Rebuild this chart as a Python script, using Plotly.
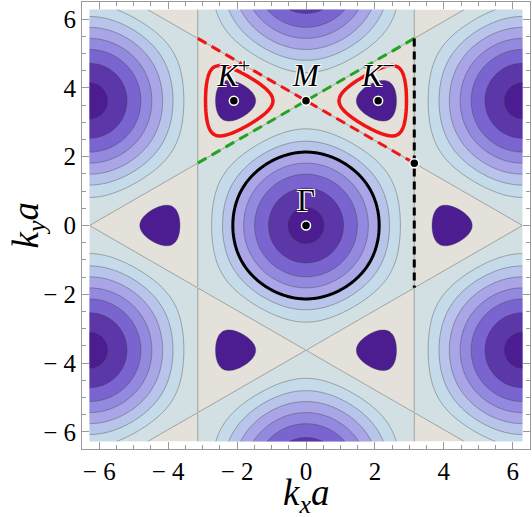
import numpy as np
import plotly.graph_objects as go

# Triangular lattice, a = 1 (nearest-neighbour vectors)
a1 = [1.0, 0.0]
a2 = [0.5, 0.8660254]
a3 = [-0.5, 0.8660254]

# |f(k)|^2 values at which the filled bands change
band_levels = [1.0, 1.96, 2.9, 3.9, 5.0, 6.1, 7.35, 8.6]
# band colours, from |f|^2 < 1 (triangles) to the centre of each Gamma pocket
band_colors = ['#e3e1d9', '#d3e0e3', '#c6dbe9', '#b8c4ea', '#a9a5e6',
               '#9389df', '#7a64cf', '#5c37a8', '#4c1d90']
blob_level = 0.24      # dark pocket around every K point
fermi_level_K = 0.6    # red curves around K+ and K-
fermi_level_G = 3.9    # black curve around Gamma

# special points
point_names = ['Γ', '<i>K</i><sup>+</sup>', '<i>M</i>', '<i>K</i><sup>−</sup>', '']
point_kx = [0.0, -2.094, 0.0, 2.094, 3.142]
point_ky = [0.0, 3.628, 3.628, 3.628, 1.814]

# dashed paths
red_path_kx = [-3.142, 3.142]
red_path_ky = [5.441, 1.814]
green_path_kx = [-3.142, 3.142]
green_path_ky = [1.814, 5.441]
black_path_kx = [3.142, 3.142]
black_path_ky = [5.441, -1.814]

ticks = [-6, -4, -2, 0, 2, 4, 6]
tick_text = ['− 6', '− 4', '− 2', '0', '2', '4', '6']


def f_squared(kx, ky):
    s = 3.0
    for a in (a1, a2, a3):
        s = s + 2 * np.cos(kx * a[0] + ky * a[1])
    return s


# Filled contour map over the plotted zone
k = np.linspace(-2 * np.pi, 2 * np.pi, 400)
KX, KY = np.meshgrid(k, k)
F2 = f_squared(KX, KY)
Z = np.interp(F2, [0] + band_levels + [9], list(range(9)) + [8.5])

n = len(band_colors)
colorscale = [[i / (n - 1), c] for i, c in enumerate(band_colors)]
line_gray = 'rgba(60,60,60,0.55)'

fig = go.Figure()
fig.add_trace(go.Contour(x=k, y=k, z=Z, colorscale=colorscale, showscale=False,
                         contours=dict(start=1, end=8, size=1, coloring='fill'),
                         line=dict(color=line_gray, width=0.7), hoverinfo='skip'))

# dark pockets at the K points (filled only where |f|^2 < blob_level)
fig.add_trace(go.Contour(x=k, y=k, z=-F2, showscale=False,
                         colorscale=[[0, 'rgba(0,0,0,0)'], [1, band_colors[-1]]],
                         contours=dict(start=-blob_level, end=-blob_level, size=1, coloring='fill'),
                         line=dict(color=line_gray, width=0.7), hoverinfo='skip'))

# Black curve around Gamma
kg = np.linspace(-3, 3, 200)
GX, GY = np.meshgrid(kg, kg)
fig.add_trace(go.Contour(x=kg, y=kg, z=f_squared(GX, GY), showscale=False,
                         contours=dict(start=fermi_level_G, end=fermi_level_G, size=1, coloring='none'),
                         line=dict(color='black', width=3), hoverinfo='skip'))

# Dashed paths
fig.add_trace(go.Scatter(x=red_path_kx, y=red_path_ky, mode='lines',
                         line=dict(color='#f01414', width=3, dash='10px,6px')))
fig.add_trace(go.Scatter(x=green_path_kx, y=green_path_ky, mode='lines',
                         line=dict(color='#22a322', width=3, dash='10px,6px')))
fig.add_trace(go.Scatter(x=black_path_kx, y=black_path_ky, mode='lines',
                         line=dict(color='black', width=3, dash='8px,5px')))

# Red curves around K+ and K-
kxs = np.linspace(-3.1, 3.1, 250)
kys = np.linspace(2.1, 5.2, 130)
SX, SY = np.meshgrid(kxs, kys)
fig.add_trace(go.Contour(x=kxs, y=kys, z=f_squared(SX, SY), showscale=False,
                         contours=dict(start=fermi_level_K, end=fermi_level_K, size=1, coloring='none'),
                         line=dict(color='#f01414', width=3.5), hoverinfo='skip'))

# Special points and labels
fig.add_trace(go.Scatter(x=point_kx, y=point_ky, mode='markers+text', text=point_names,
                         textposition='top center',
                         textfont=dict(family='Liberation Serif', size=31, color='black',
                                       shadow='1px 1px 0 #fff, -1px -1px 0 #fff, 1px -1px 0 #fff, -1px 1px 0 #fff'),
                         marker=dict(color='black', size=9, line=dict(color='white', width=1.5))))

axis_style = dict(range=[-6.5, 6.5], tickvals=ticks, ticktext=tick_text, ticks='inside', ticklen=7,
                  tickcolor='#999999', showline=True, linecolor='#999999', linewidth=1,
                  mirror='ticks', showgrid=False, zeroline=False, automargin=False,
                  tickfont=dict(family='Liberation Serif', size=25, color='black'),
                  minor=dict(tick0=0, dtick=0.5, ticks='inside', ticklen=4, tickcolor='#999999'))

title_font = dict(family='Liberation Serif', size=37, color='black')

fig.update_layout(
    width=532, height=517,
    margin=dict(l=82, r=2, t=2, b=68),
    paper_bgcolor='white', plot_bgcolor='white',
    showlegend=False,
    xaxis=axis_style,
    yaxis=axis_style,
    annotations=[
        dict(text='<i>k</i><sub><i>x</i></sub><i>a</i>', xref='paper', yref='paper',
             x=0.5, y=0, xanchor='center', yanchor='middle', yshift=-46,
             showarrow=False, font=title_font),
        dict(text='<i>k</i><sub><i>y</i></sub><i>a</i>', xref='paper', yref='paper',
             x=0, y=0.5, xanchor='center', yanchor='middle', xshift=-54, textangle=-90,
             showarrow=False, font=title_font),
    ],
)

# drop the page's default body margin so the figure sits at the window corner
fig.write_html("out.html", config={'displayModeBar': False},
               post_script="document.body.style.margin = '0px';")
